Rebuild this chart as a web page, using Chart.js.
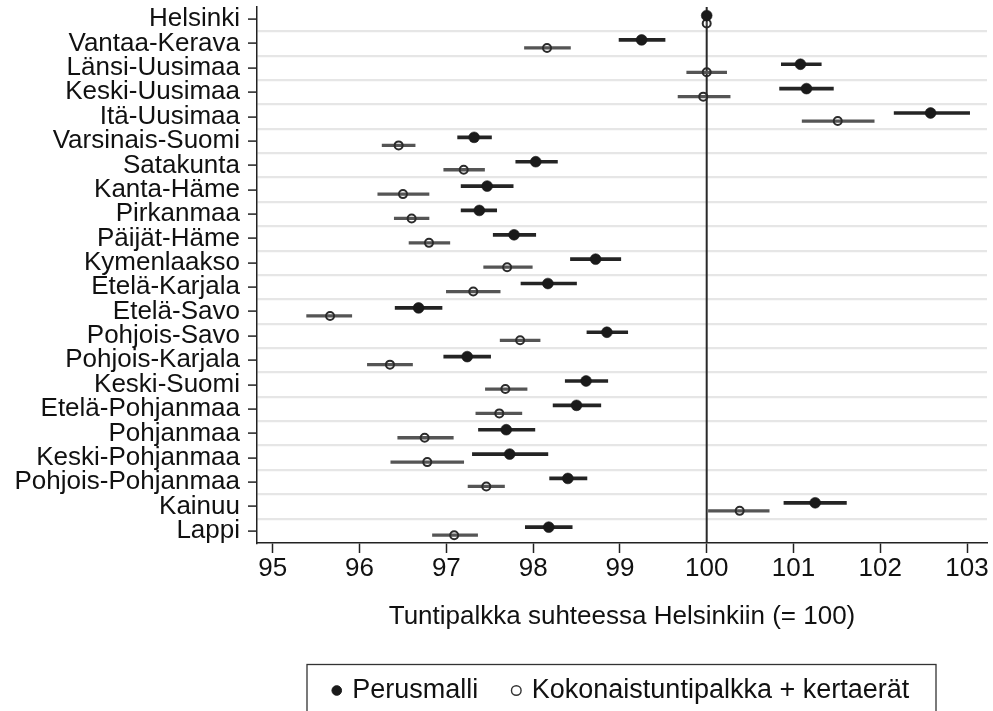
<!DOCTYPE html>
<html>
<head>
<meta charset="utf-8">
<script src="https://cdn.jsdelivr.net/npm/chart.js@4/dist/chart.umd.min.js"></script>
<style>
  html, body { margin: 0; padding: 0; background: #ffffff; }
  #wrap { width: 993px; height: 711px; }
</style>
</head>
<body>
<div id="wrap"><canvas id="c" width="993" height="711"></canvas></div>
<script>
const regions = ['Helsinki', 'Vantaa-Kerava', 'Länsi-Uusimaa', 'Keski-Uusimaa', 'Itä-Uusimaa',
  'Varsinais-Suomi', 'Satakunta', 'Kanta-Häme', 'Pirkanmaa', 'Päijät-Häme', 'Kymenlaakso',
  'Etelä-Karjala', 'Etelä-Savo', 'Pohjois-Savo', 'Pohjois-Karjala', 'Keski-Suomi',
  'Etelä-Pohjanmaa', 'Pohjanmaa', 'Keski-Pohjanmaa', 'Pohjois-Pohjanmaa', 'Kainuu', 'Lappi'];

const seriesNames = ['Perusmalli', 'Kokonaistuntipalkka + kertaerät'];

const perusmalli = [100, 99.25, 101.08, 101.15, 102.58, 97.32, 98.03, 97.47, 97.38, 97.78, 98.72,
  98.17, 96.68, 98.85, 97.24, 98.61, 98.50, 97.69, 97.73, 98.40, 101.25, 98.18];
const perusmalliLow = [100, 98.99, 100.86, 100.84, 102.16, 97.13, 97.80, 97.17, 97.17, 97.54, 98.43,
  97.86, 96.41, 98.62, 96.97, 98.37, 98.23, 97.37, 97.30, 98.19, 100.89, 97.91];
const perusmalliHigh = [100, 99.52, 101.32, 101.46, 103.03, 97.52, 98.28, 97.77, 97.58, 98.03, 99.01,
  98.50, 96.95, 99.09, 97.51, 98.86, 98.78, 98.02, 98.17, 98.62, 101.61, 98.45];

const kokonais = [100, 98.16, 100.00, 99.96, 101.51, 96.45, 97.20, 96.50, 96.60, 96.80, 97.70,
  97.31, 95.66, 97.85, 96.35, 97.68, 97.61, 96.75, 96.78, 97.46, 100.38, 97.09];
const kokonaisLow = [100, 97.90, 99.77, 99.67, 101.10, 96.26, 96.97, 96.21, 96.40, 96.57, 97.43,
  97.00, 95.39, 97.62, 96.09, 97.45, 97.34, 96.44, 96.36, 97.25, 100.02, 96.84];
const kokonaisHigh = [100, 98.43, 100.23, 100.27, 101.93, 96.64, 97.44, 96.80, 96.80, 97.04, 97.99,
  97.62, 95.91, 98.08, 96.61, 97.93, 97.87, 97.08, 97.20, 97.67, 100.72, 97.36];

const xTicks = [95, 96, 97, 98, 99, 100, 101, 102, 103];
const referenceValue = 100;
const xTitle = 'Tuntipalkka suhteessa Helsinkiin (= 100)';

// style constants
const FONT = '"Liberation Sans", Arial, Helvetica, sans-serif';
const offFilled = -0.15;
const offHollow = 0.18;
const yMin = -0.5;
const yMax = regions.length - 0.5;

const yTickValues = [];
for (let k = 0; k <= regions.length * 2; k++) yTickValues.push(yMin + k * 0.5);

Chart.defaults.font.family = FONT;
Chart.defaults.color = '#111';

const legendBox = {
  id: 'legendBox',
  afterDraw(chart) {
    const lg = chart.legend;
    if (!lg || !lg.legendHitBoxes || !lg.legendHitBoxes.length) return;
    const hb = lg.legendHitBoxes[0];
    const cy = hb.top + hb.height / 2;
    const ca = chart.chartArea;
    const ctx = chart.ctx;
    ctx.save();
    ctx.strokeStyle = '#333';
    ctx.lineWidth = 1.3;
    ctx.strokeRect(ca.left + 50, cy - 26, (ca.right - 51) - (ca.left + 50), 90);
    ctx.restore();
  }
};

new Chart(document.getElementById('c'), {
  type: 'scatter',
  data: {
    datasets: [
      {
        type: 'line',
        label: 'ref',
        data: [{ x: referenceValue, y: yMin }, { x: referenceValue, y: yMax }],
        borderColor: '#2a2a2a',
        borderWidth: 2,
        pointRadius: 0,
        order: 10
      },
      {
        type: 'bar',
        label: 'ci1',
        indexAxis: 'y',
        grouped: false,
        barThickness: 3,
        data: regions.map((r, i) => ({ y: i + offFilled, x: [perusmalliLow[i], perusmalliHigh[i]] })),
        backgroundColor: '#242424',
        borderWidth: 0,
        order: 5
      },
      {
        type: 'bar',
        label: 'ci2',
        indexAxis: 'y',
        grouped: false,
        barThickness: 2.6,
        data: regions.map((r, i) => ({ y: i + offHollow, x: [kokonaisLow[i], kokonaisHigh[i]] })),
        backgroundColor: '#555555',
        borderWidth: 0,
        order: 5
      },
      {
        type: 'scatter',
        label: seriesNames[0],
        data: regions.map((r, i) => ({ x: perusmalli[i], y: i + offFilled })),
        pointRadius: 5.4,
        pointBackgroundColor: '#1a1a1a',
        pointBorderColor: '#1a1a1a',
        pointBorderWidth: 0.6,
        order: 1
      },
      {
        type: 'scatter',
        label: seriesNames[1],
        data: regions.map((r, i) => ({ x: kokonais[i], y: i + offHollow })),
        pointRadius: 4,
        pointBackgroundColor: 'rgba(0,0,0,0)',
        pointBorderColor: '#2b2b2b',
        pointBorderWidth: 2,
        order: 1
      }
    ]
  },
  options: {
    responsive: false,
    animation: false,
    indexAxis: 'y',
    layout: { padding: { left: 0, right: 5, top: 7, bottom: -3 } },
    plugins: {
      tooltip: { enabled: false },
      legend: {
        position: 'bottom',
        fullSize: false,
        labels: {
          font: { size: 27 },
          color: '#111',
          usePointStyle: true,
          boxWidth: 4,
          boxHeight: 6.8,
          padding: 36,
          generateLabels: () => [
            { text: seriesNames[0], fillStyle: '#1a1a1a', strokeStyle: '#1a1a1a', lineWidth: 1, pointStyle: 'circle', datasetIndex: 3, fontColor: '#111' },
            { text: seriesNames[1], fillStyle: 'rgba(0,0,0,0)', strokeStyle: '#333', lineWidth: 1.4, pointStyle: 'circle', datasetIndex: 4, fontColor: '#111' }
          ]
        }
      }
    },
    scales: {
      x: {
        type: 'linear',
        position: 'bottom',
        offset: false,
        beginAtZero: false,
        min: 94.818,
        max: 103.23,
        afterBuildTicks: (scale) => { scale.ticks = xTicks.map(v => ({ value: v })); },
        afterFit: (scale) => { scale.height = 98; scale.paddingLeft = 0; scale.paddingRight = 0; },
        ticks: {
          font: { size: 26 },
          color: '#111',
          padding: 0,
          autoSkip: false,
          maxRotation: 0,
          callback: (v) => String(v)
        },
        grid: {
          offset: false,
          drawOnChartArea: false,
          drawTicks: true,
          tickLength: 10,
          tickColor: '#222',
          tickWidth: 1.5
        },
        border: { display: true, color: '#222', width: 1.5 },
        title: {
          display: true,
          text: xTitle,
          font: { size: 26 },
          color: '#111',
          padding: { top: 0, bottom: 9 }
        }
      },
      y: {
        type: 'linear',
        position: 'left',
        offset: false,
        beginAtZero: false,
        reverse: true,
        min: yMin,
        max: yMax,
        afterBuildTicks: (scale) => { scale.ticks = yTickValues.map(v => ({ value: v })); },
        afterFit: (scale) => { scale.width = 257; scale.paddingTop = 0; scale.paddingBottom = 0; },
        ticks: {
          autoSkip: false,
          font: { size: 26 },
          color: '#111',
          padding: 8,
          callback: (v) => (Number.isInteger(v) && v >= 0 && v < regions.length) ? regions[v] : ''
        },
        grid: {
          offset: false,
          drawOnChartArea: true,
          drawTicks: true,
          tickLength: 9,
          lineWidth: 2.2,
          color: (ctx) => {
            const v = ctx.tick ? ctx.tick.value : 0;
            return (!Number.isInteger(v) && v > yMin && v < yMax) ? '#e6e6e6' : 'rgba(0,0,0,0)';
          },
          tickColor: (ctx) => {
            const v = ctx.tick ? ctx.tick.value : 0.5;
            return Number.isInteger(v) ? '#222' : 'rgba(0,0,0,0)';
          },
          tickWidth: 1.5
        },
        border: { display: true, color: '#222', width: 1.5 }
      }
    }
  },
  plugins: [legendBox]
});
</script>
</body>
</html>
